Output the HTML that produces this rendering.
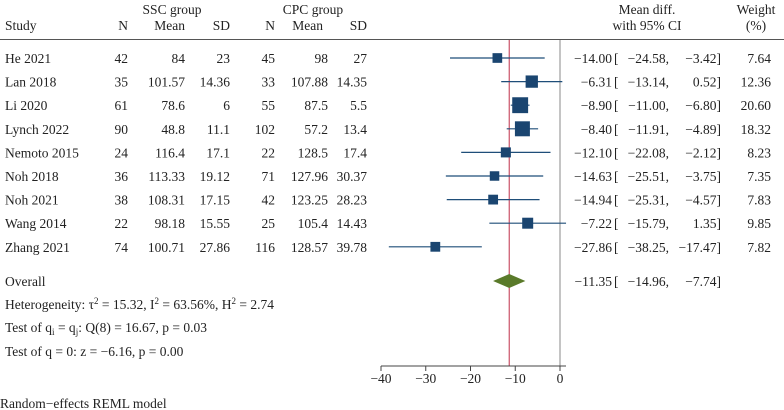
<!DOCTYPE html>
<html><head><meta charset="utf-8"><style>
html,body{margin:0;padding:0;background:#fff}
svg{display:block;font-family:"Liberation Serif",serif;font-size:13.5px;fill:#222}
</style></head><body>
<svg id="c" width="784" height="410" viewBox="0 0 784 410">
<g id="hdr">
<text x="172" y="14" text-anchor="middle">SSC group</text>
<text x="313" y="14" text-anchor="middle">CPC group</text>
<text x="5" y="30">Study</text>
<text x="128" y="30" text-anchor="end">N</text>
<text x="185" y="30" text-anchor="end">Mean</text>
<text x="230" y="30" text-anchor="end">SD</text>
<text x="275" y="30" text-anchor="end">N</text>
<text x="323" y="30" text-anchor="end">Mean</text>
<text x="367" y="30" text-anchor="end">SD</text>
<text x="647" y="14" text-anchor="middle">Mean diff.</text>
<text x="647" y="30" text-anchor="middle">with 95% CI</text>
<text x="756" y="14" text-anchor="middle">Weight</text>
<text x="756" y="30" text-anchor="middle">(%)</text>
<line x1="0" y1="39.5" x2="784" y2="39.5" stroke="#555" stroke-width="1"/>
</g>
<g id="plot"></g>
<g id="foot">
<text x="5" y="309">Heterogeneity: τ<tspan dy="-5" font-size="9">2</tspan><tspan dy="5"> = 15.32, I</tspan><tspan dy="-5" font-size="9">2</tspan><tspan dy="5"> = 63.56%, H</tspan><tspan dy="-5" font-size="9">2</tspan><tspan dy="5"> = 2.74</tspan></text>
<text x="5" y="332">Test of q<tspan dy="3" font-size="9">i</tspan><tspan dy="-3"> = q</tspan><tspan dy="3" font-size="9">j</tspan><tspan dy="-3">: Q(8) = 16.67, p = 0.03</tspan></text>
<text x="5" y="356">Test of q = 0: z = −6.16, p = 0.00</text>
<text x="0" y="408">Random−effects REML model</text>
</g>
</svg>
<script>
const studies=["He 2021","Lan 2018","Li 2020","Lynch 2022","Nemoto 2015","Noh 2018","Noh 2021","Wang 2014","Zhang 2021"];
const n1=[42,35,61,90,24,36,38,22,74];
const mean1=["84","101.57","78.6","48.8","116.4","113.33","108.31","98.18","100.71"];
const sd1=["23","14.36","6","11.1","17.1","19.12","17.15","15.55","27.86"];
const n2=[45,33,55,102,22,71,42,25,116];
const mean2=["98","107.88","87.5","57.2","128.5","127.96","123.25","105.4","128.57"];
const sd2=["27","14.35","5.5","13.4","17.4","30.37","28.23","14.43","39.78"];
const md=[-14.00,-6.31,-8.90,-8.40,-12.10,-14.63,-14.94,-7.22,-27.86];
const lo=[-24.58,-13.14,-11.00,-11.91,-22.08,-25.51,-25.31,-15.79,-38.25];
const hi=[-3.42,0.52,-6.80,-4.89,-2.12,-3.75,-4.57,1.35,-17.47];
const wt=[7.64,12.36,20.60,18.32,8.23,7.35,7.83,9.85,7.82];
const overall=[-11.35,-14.96,-7.74];
const ticks=[-40,-30,-20,-10,0];

const NS="http://www.w3.org/2000/svg";
const g=document.getElementById("plot");
const X=v=>560+v*4.475;
const Y=i=>58+i*23.6;
const fmt=v=>(v<0?"−":"")+Math.abs(v).toFixed(2);
function mk(tag,attrs,txt){const e=document.createElementNS(NS,tag);for(const k in attrs)e.setAttribute(k,attrs[k]);if(txt!==undefined)e.textContent=txt;g.appendChild(e);return e;}
const axisY=366, oy=281;
let e=mk("line",{x1:X(0),y1:40,x2:X(0),y2:axisY,stroke:"#888","stroke-width":1});


e=mk("line",{x1:X(overall[0]),y1:40,x2:X(overall[0]),y2:axisY,stroke:"#c0304a","stroke-width":1});


studies.forEach((s,i)=>{
  const y=Y(i), ty=y+5;
  const cols=[[s,5,"start"],[n1[i],128,"end"],[mean1[i],185,"end"],[sd1[i],230,"end"],[n2[i],275,"end"],[mean2[i],328,"end"],[sd2[i],367,"end"],
    [fmt(md[i]),612,"end"],["[",614,"start"],[fmt(lo[i])+",",669,"end"],[fmt(hi[i])+"]",721,"end"],[wt[i].toFixed(2),771,"end"]];
  cols.forEach((c,j)=>{const t=mk("text",{x:c[1],y:ty,"text-anchor":c[2]},c[0]);
    
    });
  const l=mk("line",{x1:X(lo[i]),y1:y,x2:X(hi[i]),y2:y,stroke:"#1f4e79","stroke-width":1.2});
  
  
  const sz=3.5*Math.sqrt(wt[i]);
  const r=mk("rect",{x:X(md[i])-sz/2,y:y-sz/2,width:sz,height:sz,fill:"#1a4570"});
  
  
});
const ot=[["Overall",5,"start"],[fmt(overall[0]),612,"end"],["[",614,"start"],[fmt(overall[1])+",",669,"end"],[fmt(overall[2])+"]",721,"end"]];
ot.forEach((c,j)=>{const t=mk("text",{x:c[1],y:oy+5,"text-anchor":c[2]},c[0]);
  
  });
e=mk("polygon",{points:`${X(overall[1])},${oy} ${X(overall[0])},${oy-7} ${X(overall[2])},${oy} ${X(overall[0])},${oy+7}`,fill:"#5a7a2a"});


e=mk("line",{x1:X(-40),y1:axisY,x2:X(0)+6,y2:axisY,stroke:"#444","stroke-width":1});


ticks.forEach(t=>{
  const tl=mk("line",{x1:X(t),y1:axisY,x2:X(t),y2:axisY+5,stroke:"#444"});
  
  
  const tx=mk("text",{x:X(t),y:axisY+17,"text-anchor":"middle"},(t<0?"−":"")+Math.abs(t));
  
  
});
</script>
</body></html>
